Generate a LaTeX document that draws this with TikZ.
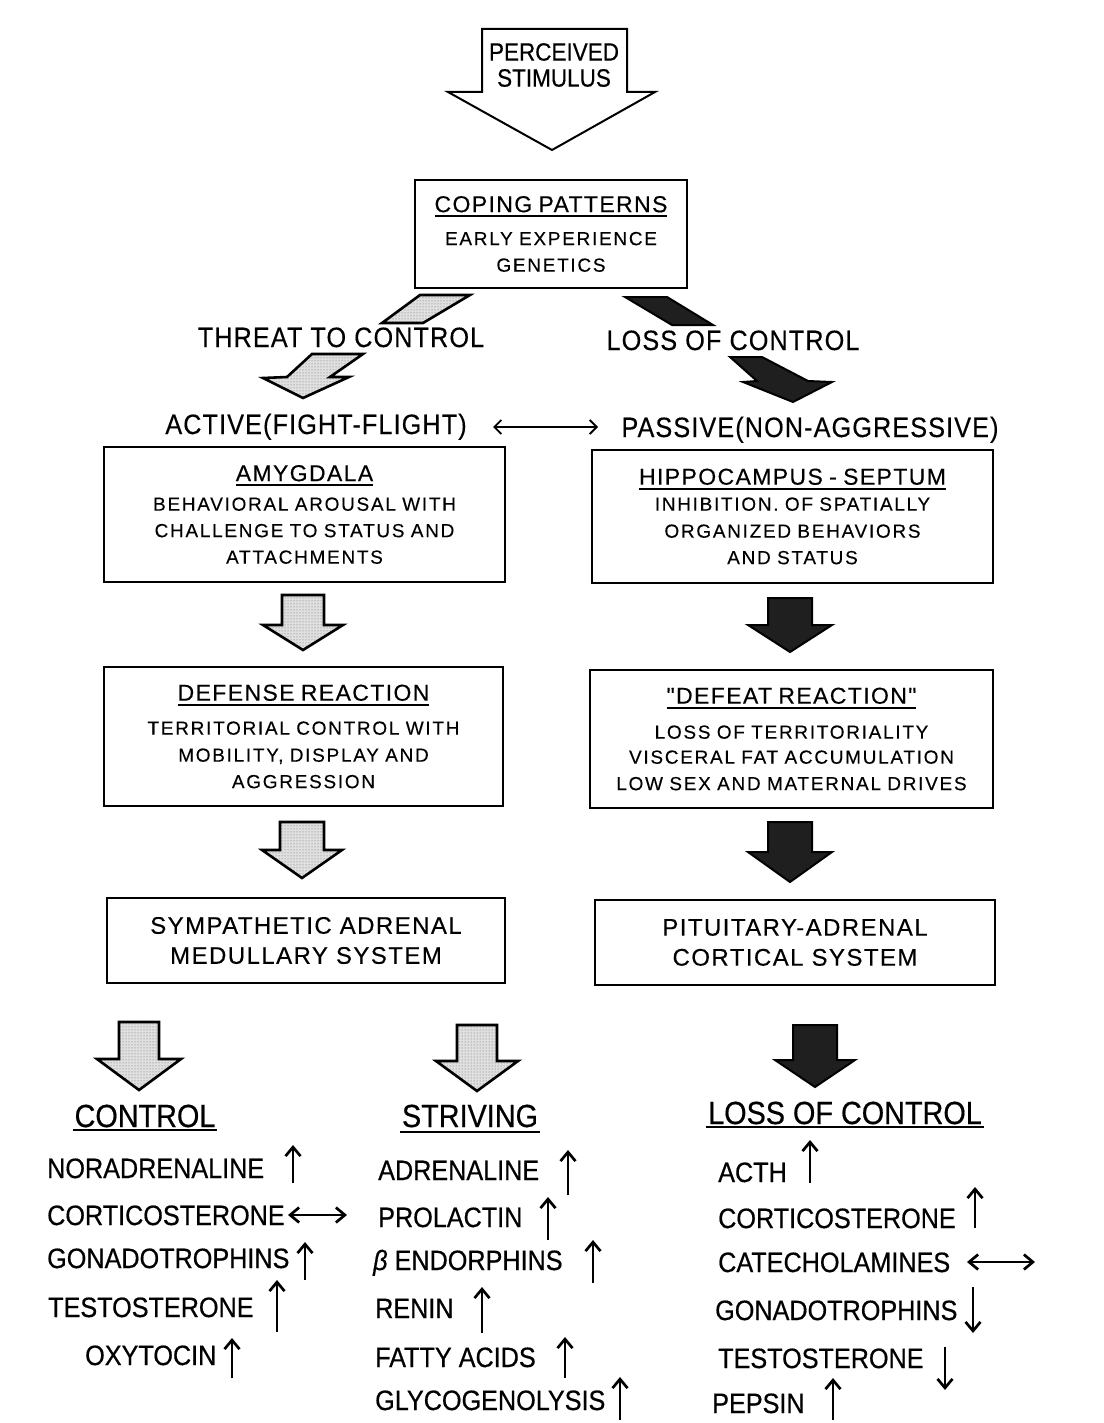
\documentclass[tikz,border=0pt]{standalone}
\usepackage{fontspec}
\setmainfont{Liberation Sans}
\newfontfamily\listfont{Liberation Sans}[FakeStretch=0.9,FakeBold=0.5]
\newfontfamily\labelfont{Liberation Sans}[FakeStretch=0.9,LetterSpace=4,FakeBold=0.3]
\newfontfamily\headfont{Liberation Sans}[LetterSpace=6,FakeBold=0.3]
\newfontfamily\bodyfont{Liberation Sans}[LetterSpace=9,FakeBold=0.2]
\usetikzlibrary{arrows.meta,patterns}

% text with a heavy rule a little below the baseline
\newcommand{\undl}[2][5pt]{\setbox0=\hbox{#2}\rlap{\rule[-#1]{\wd0}{1.8pt}}\box0}

% block arrow: style, centre x, top y, shoulder y, tip y, half shaft, half wing
\newcommand{\blockarrow}[7]{%
  \path[#1] (#2-#6,#3) -- (#2+#6,#3) -- (#2+#6,#4) -- (#2+#7,#4) -- (#2,#5)
    -- (#2-#7,#4) -- (#2-#6,#4) -- cycle;}

\begin{document}
\begin{tikzpicture}[x=1pt,y=-1pt,
  boxframe/.style={draw, line width=2pt, inner sep=0pt, align=center,
    font=\bodyfont\fontsize{19}{26.5}\selectfont},
  litearrow/.style={preaction={fill=black!12}, pattern=dots, pattern color=black!60,
    draw, line width=2.6pt, line join=miter},
  darkarrow/.style={draw, line width=2pt, line join=miter, fill=black!88},
  tag/.style={anchor=base, inner sep=0pt, font=\labelfont\fontsize{28}{30}\selectfont},
  listitem/.style={anchor=base west, inner sep=0pt, font=\listfont\fontsize{28}{30}\selectfont},
  heading/.style={anchor=base, inner sep=0pt, font=\listfont\fontsize{32}{34}\selectfont},
  trend/.style={line width=2.7pt, -{Straight Barb[length=9pt,width=15pt]}},
  steady/.style={line width=2.7pt, {Straight Barb[length=9pt,width=15pt]}-{Straight Barb[length=9pt,width=15pt]}},
  pairarrow/.style={line width=1.8pt, {Straight Barb[length=7pt,width=14pt]}-{Straight Barb[length=7pt,width=14pt]}}
]
\fill[white] (0,0) rectangle (1103,1423);
\useasboundingbox (0,0) rectangle (1103,1423);

% ---- stimulus arrow
\draw[line width=2pt, line join=miter, fill=white]
  (482,29) -- (627,29) -- (627,92) -- (655,92) -- (552,150) -- (448,92) -- (482,92) -- cycle;
\node[align=center, inner sep=0pt, font=\listfont\fontsize{25}{26}\selectfont] (stim) at (554,65)
  {PERCEIVED\\STIMULUS};

% ---- coping patterns
\node[boxframe, minimum width=272, minimum height=108, text width=265] (coping) at (551,234)
  {\fontsize{19}{25}\selectfont{\headfont\fontsize{23}{25}\selectfont\undl{COPING PATTERNS}}\\[8pt]
   EARLY EXPERIENCE\\GENETICS};

% ---- split into two branches
\path[litearrow] (420,295) -- (470,295) -- (423,323) -- (382,323) -- cycle;
\path[litearrow] (312,354) -- (363,354) -- (330,377) -- (349,377) -- (303,398) -- (263,378) -- (287,377) -- cycle;
\path[darkarrow] (625,297) -- (667,297) -- (713,325) -- (672,325) -- cycle;
\path[darkarrow] (730,357) -- (762,357) -- (808,381) -- (832,382) -- (793,402) -- (743,382) -- (757,381) -- cycle;

\node[tag] (threat) at (341,347) {THREAT TO CONTROL};
\node[tag] (losstop) at (733,350) {LOSS OF CONTROL};

\node[tag] (active) at (316,434) {ACTIVE(FIGHT-FLIGHT)};
\node[tag] (passive) at (810,437) {PASSIVE(NON-AGGRESSIVE)};
\coordinate (pa) at (493,427);
\coordinate (pb) at (598,427);
\draw[pairarrow] (pa) -- (pb);

% ---- brain structures
\node[boxframe, minimum width=401, minimum height=135, text width=395] (amyg) at (304.5,514.5)
  {{\headfont\fontsize{23}{26}\selectfont\undl{AMYGDALA}}\\[3pt]
   BEHAVIORAL AROUSAL WITH\\CHALLENGE TO STATUS AND\\ATTACHMENTS};
\node[boxframe, minimum width=401, minimum height=133, text width=395] (hippo) at (792.5,516.5)
  {\fontsize{19}{27}\selectfont{\headfont\fontsize{23}{26}\selectfont\undl{HIPPOCAMPUS - SEPTUM}}\\[-1pt]
   INHIBITION. OF SPATIALLY\\ORGANIZED BEHAVIORS\\AND STATUS};

\blockarrow{litearrow}{303}{595}{625}{650}{21}{40}
\blockarrow{darkarrow}{790}{598}{625}{652}{22}{42}

% ---- reactions
\node[boxframe, minimum width=399, minimum height=139, text width=393] (defense) at (303.5,736.5)
  {\fontsize{19}{27}\selectfont{\headfont\fontsize{23}{26}\selectfont\undl{DEFENSE REACTION}}\\[7pt]
   TERRITORIAL CONTROL WITH\\MOBILITY, DISPLAY AND\\AGGRESSION};
\node[boxframe, minimum width=403, minimum height=138, text width=397] (defeat) at (791.5,739)
  {\fontsize{19}{25}\selectfont{\headfont\fontsize{23}{26}\selectfont\undl{"DEFEAT REACTION"}}\\[10pt]
   LOSS OF TERRITORIALITY\\VISCERAL FAT ACCUMULATION\\LOW SEX AND MATERNAL DRIVES};

\blockarrow{litearrow}{302}{822}{850}{878}{22}{40}
\blockarrow{darkarrow}{790}{822}{852}{882}{22}{42}

% ---- endocrine systems
\node[boxframe, minimum width=398, minimum height=85, text width=392,
  font=\headfont\fontsize{24}{30}\selectfont] (symp) at (306,940.5)
  {SYMPATHETIC ADRENAL\\MEDULLARY SYSTEM};
\node[boxframe, minimum width=400, minimum height=85, text width=394,
  font=\headfont\fontsize{24}{30}\selectfont] (pitu) at (795,942.5)
  {PITUITARY-ADRENAL\\CORTICAL SYSTEM};

\blockarrow{litearrow}{139}{1022}{1059}{1090}{20}{42}
\blockarrow{litearrow}{477}{1025}{1061}{1091}{20}{41}
\blockarrow{darkarrow}{815}{1025}{1060}{1087}{22}{40}

% ---- outcomes
\node[heading] (control) at (145,1127) {\undl[4pt]{\kern2pt CONTROL\kern2pt}};
\node[heading] (striving) at (470,1127) {\undl[6pt]{\kern2pt STRIVING\kern2pt}};
\node[heading] (losscontrol) at (845,1124) {\undl[4pt]{\kern2pt LOSS OF CONTROL\kern2pt}};

% control column
\node[listitem] (c1) at (47,1178) {NORADRENALINE};
\node[listitem] (c2) at (47,1225) {CORTICOSTERONE};
\node[listitem] (c3) at (47,1268) {GONADOTROPHINS};
\node[listitem] (c4) at (48,1317) {TESTOSTERONE};
\node[listitem] (c5) at (85,1365) {OXYTOCIN};
\draw[trend] (293,1183) -- (293,1145);
\draw[steady] (288,1215) -- (347,1215);
\draw[trend] (305,1280) -- (305,1242);
\draw[trend] (277,1332) -- (277,1280);
\draw[trend] (232,1378) -- (232,1338);

% striving column
\node[listitem] (s1) at (378,1180) {ADRENALINE};
\node[listitem] (s2) at (378,1227) {PROLACTIN};
\node[listitem] (s3) at (373,1270) {{\itshape β} ENDORPHINS};
\node[listitem] (s4) at (375,1318) {RENIN};
\node[listitem] (s5) at (375,1367) {FATTY ACIDS};
\node[listitem] (s6) at (375,1410) {GLYCOGENOLYSIS};
\draw[trend] (568,1195) -- (568,1150);
\draw[trend] (548,1240) -- (548,1197);
\draw[trend] (593,1283) -- (593,1240);
\draw[trend] (482,1333) -- (482,1287);
\draw[trend] (565,1378) -- (565,1337);
\draw[trend] (620,1420) -- (620,1377);

% loss of control column
\node[listitem] (l1) at (718,1182) {ACTH};
\node[listitem] (l2) at (718,1228) {CORTICOSTERONE};
\node[listitem] (l3) at (718,1272) {CATECHOLAMINES};
\node[listitem] (l4) at (715,1320) {GONADOTROPHINS};
\node[listitem] (l5) at (718,1368) {TESTOSTERONE};
\node[listitem] (l6) at (712,1413) {PEPSIN};
\draw[trend] (810,1183) -- (810,1140);
\draw[trend] (975,1228) -- (975,1187);
\draw[steady] (967,1262) -- (1035,1262);
\draw[trend] (973,1287) -- (973,1333);
\draw[trend] (945,1347) -- (945,1390);
\draw[trend] (833,1420) -- (833,1378);
\end{tikzpicture}
\end{document}
